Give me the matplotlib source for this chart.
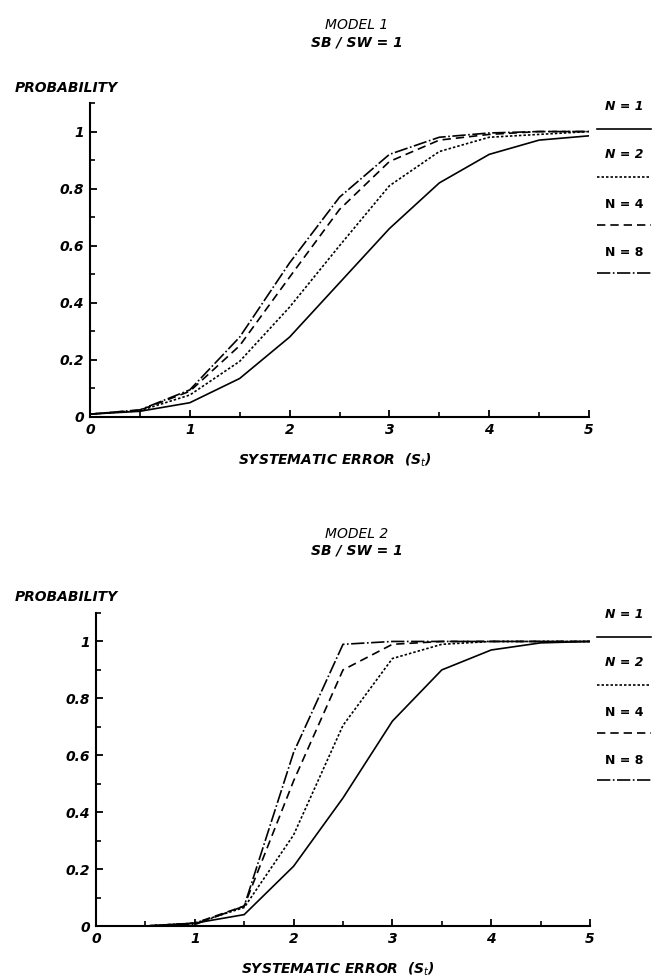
import matplotlib
matplotlib.use("Agg")
import matplotlib.pyplot as plt
from matplotlib.lines import Line2D
from matplotlib.ticker import MultipleLocator, FixedLocator

x = [0, 0.5, 1, 1.5, 2, 2.5, 3, 3.5, 4, 4.5, 5]

m1_n1 = [0.01, 0.02, 0.05, 0.135, 0.28, 0.47, 0.66, 0.82, 0.92, 0.97, 0.985]
m1_n2 = [0.01, 0.022, 0.077, 0.195, 0.385, 0.60, 0.81, 0.93, 0.98, 0.99, 1.0]
m1_n4 = [0.01, 0.024, 0.09, 0.25, 0.49, 0.727, 0.895, 0.97, 0.99, 1.0, 1.0]
m1_n8 = [0.01, 0.025, 0.095, 0.28, 0.54, 0.77, 0.92, 0.98, 0.995, 1.0, 1.0]

m2_n1 = [0.0, 0.0, 0.01, 0.04, 0.21, 0.45, 0.72, 0.90, 0.97, 0.995, 1.0]
m2_n2 = [0.0, 0.0, 0.01, 0.065, 0.32, 0.705, 0.94, 0.99, 1.0, 1.0, 1.0]
m2_n4 = [0.0, 0.0, 0.01, 0.07, 0.51, 0.90, 0.99, 1.0, 1.0, 1.0, 1.0]
m2_n8 = [0.0, 0.0, 0.005, 0.07, 0.61, 0.99, 1.0, 1.0, 1.0, 1.0, 1.0]

series_labels = ["N = 1", "N = 2", "N = 4", "N = 8"]
yticks = [0, 0.2, 0.4, 0.6, 0.8, 1]
ytick_labels = ["0", "0.2", "0.4", "0.6", "0.8", "1"]
xticks = [0, 1, 2, 3, 4, 5]
titles = [("MODEL 1", "SB / SW = 1"), ("MODEL 2", "SB / SW = 1")]

styles = [dict(linestyle="-"),
          dict(linestyle=(0, (1.5, 1.2))),
          dict(linestyle=(0, (5, 3))),
          dict(linestyle=(0, (8, 1.5, 1, 1.5)))]

W, H = 658, 976
fig = plt.figure(figsize=(W / 100, H / 100), dpi=100)
plt.rcParams['font.family'] = ['DejaVu Sans']

def fx(px):
    return px / W

def fy(py):
    return 1 - py / H

panels = [
    dict(left=90, right=589, y0=417, ytop=103, data=[m1_n1, m1_n2, m1_n4, m1_n8],
         title=titles[0], prob_y=88, t1=25, t2=42, leg_text=[106, 155, 204, 253], leg_line=[129, 177, 225, 273],
         xl_y=460),
    dict(left=96, right=590, y0=926, ytop=613, data=[m2_n1, m2_n2, m2_n4, m2_n8],
         title=titles[1], prob_y=597, t1=534, t2=551, leg_text=[615, 663, 712, 760], leg_line=[637, 685, 733, 780],
         xl_y=969),
]

tfont = dict(fontsize=10, fontweight="bold", fontstyle="italic", color="black")

for p in panels:
    ax = fig.add_axes([fx(p["left"]), fy(p["y0"]), (p["right"] - p["left"]) / W, (p["y0"] - p["ytop"]) / H])
    for ser, st in zip(p["data"], styles):
        ax.plot(x, ser, color="black", linewidth=1.2, **st)
    ax.set_xlim(0, 5)
    ax.set_ylim(0, 1.1)
    ax.spines["top"].set_visible(False)
    ax.spines["right"].set_visible(False)
    ax.spines["left"].set_linewidth(1.5)
    ax.spines["bottom"].set_linewidth(1.5)
    ax.set_xticks(xticks)
    ax.set_xticklabels([str(t) for t in xticks])
    ax.xaxis.set_minor_locator(MultipleLocator(0.5))
    ax.yaxis.set_major_locator(FixedLocator(yticks))
    ax.set_yticklabels(ytick_labels)
    ax.yaxis.set_minor_locator(FixedLocator([0.1, 0.3, 0.5, 0.7, 0.9, 1.1]))
    ax.tick_params(axis="both", which="major", direction="in", length=5, width=1.3, pad=4)
    ax.tick_params(axis="both", which="minor", direction="in", length=3.5, width=1.2)
    for lab in ax.get_xticklabels() + ax.get_yticklabels():
        lab.set_fontsize(10)
        lab.set_fontweight("bold")
        lab.set_fontstyle("italic")
    ax.patch.set_alpha(0)

    # titles
    cx = 357
    fig.text(fx(cx), fy(p["t1"]), p["title"][0], ha="center", va="center", fontsize=10, fontstyle="italic")
    fig.text(fx(cx), fy(p["t2"]), p["title"][1], ha="center", va="center", **tfont)
    fig.text(fx(15), fy(p["prob_y"]), "PROBABILITY", ha="left", va="center", **tfont)
    fig.text(fx((p["left"] + p["right"]) / 2 - 5), fy(p["xl_y"]), "SYSTEMATIC ERROR  (S$_{t}$)",
             ha="center", va="center", **tfont)

    # legend
    for i, (lab, st) in enumerate(zip(series_labels, styles)):
        style = "italic" if i < 2 else "normal"
        fig.text(fx(624), fy(p["leg_text"][i]), lab, ha="center", va="center",
                 fontsize=9, fontweight="bold", fontstyle=style)
        ln = Line2D([fx(597), fx(651)], [fy(p["leg_line"][i])] * 2, transform=fig.transFigure,
                    color="black", linewidth=1.2, **st)
        fig.add_artist(ln)

fig.savefig("out.png", dpi=100, facecolor="white")
